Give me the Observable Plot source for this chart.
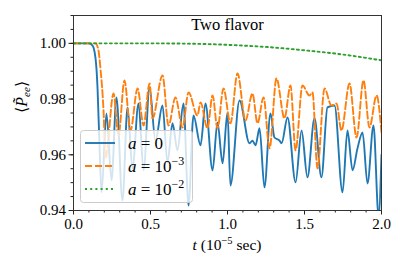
<!DOCTYPE html>
<html><head><meta charset="utf-8">
<script src="https://cdn.jsdelivr.net/npm/d3@7"></script>
<script src="https://cdn.jsdelivr.net/npm/@observablehq/plot@0.6"></script>
<style>body{margin:0;background:#fff} svg{display:block}</style>
</head><body><div id="chart"></div>
<script>
// a = 0
const t0 = [0,0.097,0.117,0.130,0.143,0.149,0.156,0.169,0.182,0.214,0.247,0.279,0.318,0.351,0.383,0.422,0.455,0.494,0.532,0.578,0.610,0.643,0.675,0.714,0.747,0.779,0.825,0.857,0.903,0.935,0.968,1.0,1.019,1.078,1.143,1.162,1.182,1.208,1.240,1.279,1.305,1.338,1.351,1.390,1.442,1.481,1.519,1.565,1.610,1.649,1.695,1.747,1.779,1.812,1.844,1.877,1.909,1.948,1.981,2.0];
const p0 = [1.000,1.000,0.9996,0.9985,0.9946,0.9910,0.9840,0.9630,0.9465,0.9748,0.9508,0.9806,0.9436,0.9770,0.9551,0.9784,0.9544,0.9842,0.9651,0.9777,0.9572,0.9713,0.9616,0.9784,0.9418,0.9741,0.9634,0.9784,0.9544,0.9716,0.9569,0.9752,0.9490,0.9795,0.9641,0.9651,0.9634,0.9695,0.9483,0.9748,0.9662,0.9651,0.9641,0.9734,0.9501,0.9687,0.9519,0.9731,0.9519,0.9770,0.9777,0.9465,0.9687,0.9544,0.9623,0.9680,0.9497,0.9705,0.9380,0.9600];
// a = 1e-3
const t3 = [0,0.143,0.162,0.175,0.195,0.208,0.260,0.292,0.331,0.370,0.416,0.455,0.494,0.513,0.578,0.617,0.662,0.708,0.747,0.805,0.825,0.870,0.903,0.935,0.974,1.019,1.065,1.117,1.162,1.195,1.234,1.273,1.318,1.370,1.409,1.442,1.487,1.532,1.552,1.584,1.630,1.675,1.708,1.740,1.792,1.838,1.883,1.922,1.968,2.0];
const p3 = [1.000,1.000,0.9975,0.9910,0.9759,0.9587,0.9820,0.9669,0.9867,0.9687,0.9838,0.9705,0.9856,0.9731,0.9885,0.9705,0.9806,0.9698,0.9824,0.9741,0.9788,0.9695,0.9813,0.9695,0.9838,0.9713,0.9892,0.9723,0.9820,0.9713,0.9806,0.9623,0.9874,0.9731,0.9849,0.9616,0.9849,0.9813,0.9824,0.9551,0.9838,0.9777,0.9784,0.9687,0.9856,0.9662,0.9867,0.9698,0.9813,0.9680];
// a = 1e-2
const t2 = [0,0.5,0.825,1.065,1.279,1.5,1.734,2.0];
const p2 = [1.000,1.000,0.9998,0.9993,0.9986,0.9975,0.9961,0.9939];

const seriesNames = ["a = 0", "a = 10^-3", "a = 10^-2"];
const colors = ["#1f77b4", "#ff7f0e", "#2ca02c"];
const xTicks = [0, 0.5, 1.0, 1.5, 2.0];
const xMinor = d3.range(0, 2.001, 0.1);
const yTicks = [0.94, 0.96, 0.98, 1.00];
const yMinor = d3.range(0.94, 1.0101, 0.005);
const title = "Two flavor";

const mk = (ts, ps) => ts.map((t, i) => ({t, p: ps[i]}));
const d0 = mk(t0, p0), d3s = mk(t3, p3), d2 = mk(t2, p2);

const font = "Liberation Serif";
const chart = Plot.plot({
  width: 407, height: 271,
  marginLeft: 73, marginRight: 26, marginTop: 15, marginBottom: 61,
  style: {fontFamily: font, fontSize: "15px", color: "#000", background: "#fff"},
  x: {domain: [0, 2], label: null},
  y: {domain: [0.94, 1.01], label: null},
  marks: [
    Plot.line(d0, {x: "t", y: "p", stroke: colors[0], strokeWidth: 1.9, curve: "monotone-x", clip: true}),
    Plot.line(d3s, {x: "t", y: "p", stroke: colors[1], strokeWidth: 1.9, strokeDasharray: "7,3", curve: "monotone-x", clip: true}),
    Plot.line(d2, {x: "t", y: "p", stroke: colors[2], strokeWidth: 1.9, strokeDasharray: "2,3.2", curve: "monotone-x", clip: true}),
    Plot.axisX(xMinor, {tickSize: 2.5, tickFormat: () => "", stroke: "#222", label: null}),
    Plot.axisX(xTicks, {tickSize: 4.5, tickPadding: 3, tickFormat: d3.format(".1f"), fontSize: 15, stroke: "#222", label: null}),
    Plot.axisY(yMinor, {tickSize: 2.5, tickFormat: () => "", stroke: "#222", label: null}),
    Plot.axisY(yTicks, {tickSize: 4.5, tickPadding: 3, tickFormat: d3.format(".2f"), fontSize: 15, stroke: "#222", label: null}),
    Plot.frame({stroke: "#333", strokeWidth: 1}),
    Plot.text([title], {frameAnchor: "top", lineAnchor: "top", dy: 3, fontSize: 16.5, fill: "#000"})
  ]
});
document.getElementById("chart").appendChild(chart);

const svg = d3.select(chart);
// x label
const xl = svg.append("text").attr("x", 227).attr("y", 250).attr("text-anchor", "middle")
  .attr("font-family", font).attr("font-size", 15.5).attr("fill", "#000");
xl.append("tspan").attr("font-style", "italic").text("t");
xl.append("tspan").text(" (10");
xl.append("tspan").attr("dy", -6).attr("font-size", 10.5).text("\u22125");
xl.append("tspan").attr("dy", 6).text(" sec)");
// y label
const yl = svg.append("text").attr("transform", "translate(27,97) rotate(-90)").attr("text-anchor", "middle")
  .attr("font-family", font).attr("font-size", 16).attr("fill", "#000");
yl.append("tspan").text("\u27E8");
yl.append("tspan").attr("font-style", "italic").text("P\u0303");
yl.append("tspan").attr("font-style", "italic").attr("font-size", 11).attr("dy", 3).text("ee");
yl.append("tspan").attr("dy", -3).text("\u27E9");

// legend
const lg = svg.append("g");
lg.append("rect").attr("x", 80.5).attr("y", 130.5).attr("width", 112).attr("height", 72).attr("rx", 3)
  .attr("fill", "#fff").attr("fill-opacity", 0.8).attr("stroke", "#cccccc");
const dashes = [null, "7,3", "2,3.2"];
seriesNames.forEach((name, i) => {
  const y = 143 + i * 23;
  lg.append("line").attr("x1", 85).attr("x2", 115).attr("y1", y).attr("y2", y)
    .attr("stroke", colors[i]).attr("stroke-width", 1.9).attr("stroke-dasharray", dashes[i]);
  const tx = lg.append("text").attr("x", 128).attr("y", y + 5.5).attr("text-anchor", "start").attr("font-family", font)
    .attr("font-size", 17).attr("fill", "#000");
  const [lhs, rhs] = name.split(" = ");
  tx.append("tspan").attr("font-style", "italic").text(lhs);
  tx.append("tspan").text(" = ");
  if (rhs.includes("^")) {
    const [b, e] = rhs.split("^");
    tx.append("tspan").text(b);
    tx.append("tspan").attr("dy", -7).attr("font-size", 12).text(e.replace("-", "\u2212"));
  } else tx.append("tspan").text(rhs);
});
</script>
</body></html>
